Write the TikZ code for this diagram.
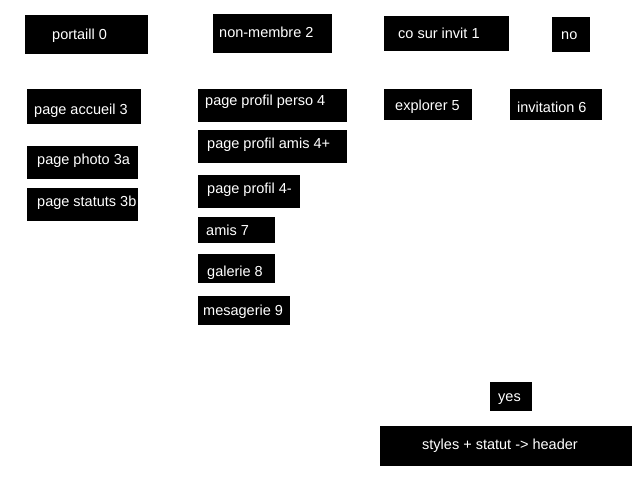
\documentclass[tikz,border=0pt]{standalone}
\usepackage{fontspec}
\setmainfont{Liberation Sans}
\tikzset{
  boxnode/.style={fill=black, inner sep=0pt, outer sep=0pt, anchor=north west},
  txt/.style={text=white, inner sep=0pt, anchor=base west, font=\fontsize{14.5pt}{16pt}\selectfont}
}
\begin{document}
\begin{tikzpicture}[x=1pt,y=-1pt]
\useasboundingbox (0,0) rectangle (640,480);
% boxes
\node[boxnode, minimum width=123pt, minimum height=39pt] (b0) at (25,15) {};
\node[boxnode, minimum width=119pt, minimum height=39pt] (b2) at (213,14) {};
\node[boxnode, minimum width=125pt, minimum height=35pt] (b1) at (384,16) {};
\node[boxnode, minimum width=38pt, minimum height=35pt] (bno) at (552,17) {};
\node[boxnode, minimum width=114pt, minimum height=35pt] (b3) at (27,89) {};
\node[boxnode, minimum width=149pt, minimum height=33pt] (b4) at (198,89) {};
\node[boxnode, minimum width=88pt, minimum height=31pt] (b5) at (384,89) {};
\node[boxnode, minimum width=92pt, minimum height=31pt] (b6) at (510,89) {};
\node[boxnode, minimum width=111pt, minimum height=33pt] (b3a) at (27,146) {};
\node[boxnode, minimum width=111pt, minimum height=33pt] (b3b) at (27,188) {};
\node[boxnode, minimum width=149pt, minimum height=33pt] (b4p) at (198,130) {};
\node[boxnode, minimum width=102pt, minimum height=33pt] (b4m) at (198,175) {};
\node[boxnode, minimum width=77pt, minimum height=26pt] (b7) at (198,217) {};
\node[boxnode, minimum width=77pt, minimum height=29pt] (b8) at (198,254) {};
\node[boxnode, minimum width=92pt, minimum height=29pt] (b9) at (198,296) {};
\node[boxnode, minimum width=42pt, minimum height=29pt] (byes) at (490,382) {};
\node[boxnode, minimum width=252pt, minimum height=40pt] (bst) at (380,426) {};
% texts
\node[txt] (t0) at (52,39) {portaill 0};
\node[txt] (t2) at (219,37) {non-membre 2};
\node[txt] (t1) at (398,38) {co sur invit 1};
\node[txt] (tno) at (561,39) {no};
\node[txt] (t3) at (34,114) {page accueil 3};
\node[txt] (t4) at (205,105) {page profil perso 4};
\node[txt] (t5) at (395,110) {explorer 5};
\node[txt] (t6) at (517,112) {invitation 6};
\node[txt] (t3a) at (37,164) {page photo 3a};
\node[txt] (t3b) at (37,206) {page statuts 3b};
\node[txt] (t4p) at (207,148) {page profil amis 4+};
\node[txt] (t4m) at (207,193) {page profil 4-};
\node[txt] (t7) at (206,235) {amis 7};
\node[txt] (t8) at (207,276) {galerie 8};
\node[txt] (t9) at (203,315) {mesagerie 9};
\node[txt] (tyes) at (498,401) {yes};
\node[txt] (tst) at (422,449) {styles + statut -> header};
\end{tikzpicture}
\end{document}
